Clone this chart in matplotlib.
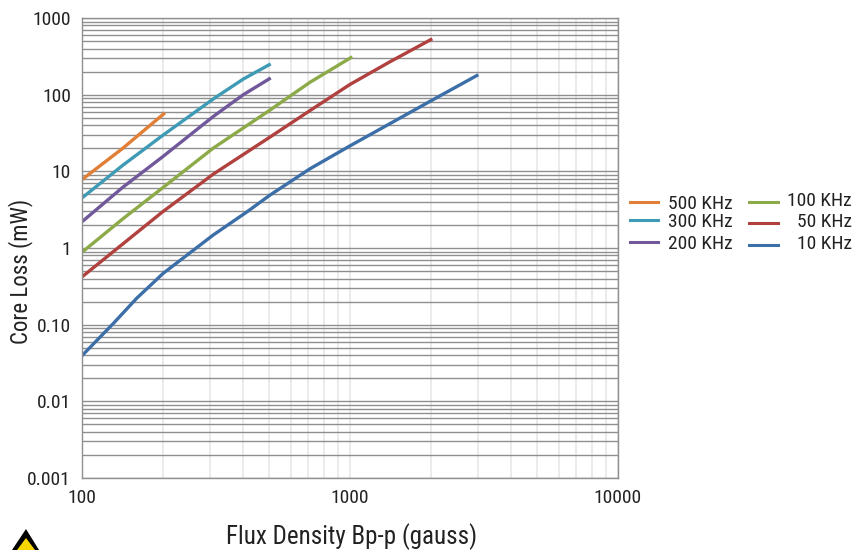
import matplotlib
matplotlib.use('Agg')
import matplotlib.pyplot as plt
from matplotlib.lines import Line2D
from matplotlib.patches import Polygon

plt.rcParams['font.family'] = ['Roboto Condensed', 'Liberation Sans Narrow', 'Archivo Narrow', 'Roboto', 'DejaVu Sans']

# values
x_500 = [100, 142, 204]
y_500 = [7.8, 20, 58]
x_300 = [100, 142, 201, 309, 400, 506]
y_300 = [4.5, 12, 29.8, 88, 160, 252]
x_200 = [100, 142, 200, 309, 400, 506]
y_200 = [2.2, 6.2, 15.5, 52, 100, 165]
x_100 = [100, 142, 200, 309, 503, 709, 1020]
y_100 = [0.88, 2.4, 6.1, 20.1, 63, 145, 312]
x_50 = [100, 200, 309, 503, 709, 1000, 1400, 2028]
y_50 = [0.42, 2.97, 9.2, 28, 62, 136, 265, 535]
x_10 = [100, 131, 160, 201, 309, 412, 503, 709, 1000, 2028, 3012]
y_10 = [0.0394, 0.104, 0.221, 0.468, 1.48, 2.95, 4.9, 10.8, 21.5, 85, 182]

labels_left = ['500 KHz', '300 KHz', '200 KHz']
labels_right = ['100 KHz', '50 KHz', '10 KHz']
colors_left = ['#e07f35', '#3f9bb5', '#70589b']
colors_right = ['#8caa48', '#b0413e', '#3c6fa8']
ytick_vals = [0.001, 0.01, 0.1, 1, 10, 100, 1000]
ytick_labels = ['0.001', '0.01', '0.10', '1', '10', '100', '1000']
xtick_vals = [100, 1000, 10000]
xtick_labels = ['100', '1000', '10000']

fig = plt.figure(figsize=(8.54, 5.5), dpi=100)
ax = fig.add_axes([82/854, 72/550, 536/854, 460/550])
ax.set_xscale('log')
ax.set_yscale('log')
ax.set_xlim(100, 10000)
ax.set_ylim(0.001, 1000)

ax.grid(True, axis='y', which='both', color='#8f8f8f', lw=1.0)
ax.grid(True, axis='x', which='both', color='#e6e6e6', lw=1.1)
ax.set_axisbelow(True)
for s in ax.spines.values():
    s.set_color('#8f8f8f')
    s.set_linewidth(1.0)

ax.plot(x_500, y_500, color=colors_left[0], lw=2.4, solid_capstyle='butt')
ax.plot(x_300, y_300, color=colors_left[1], lw=2.4, solid_capstyle='butt')
ax.plot(x_200, y_200, color=colors_left[2], lw=2.4, solid_capstyle='butt')
ax.plot(x_100, y_100, color=colors_right[0], lw=2.4, solid_capstyle='butt')
ax.plot(x_50, y_50, color=colors_right[1], lw=2.4, solid_capstyle='butt')
ax.plot(x_10, y_10, color=colors_right[2], lw=2.4, solid_capstyle='butt')

ax.set_yticks(ytick_vals)
ax.set_yticklabels(ytick_labels, fontsize=14, color='#222222')
ax.set_xticks(xtick_vals)
ax.set_xticklabels(xtick_labels, fontsize=14, color='#222222')
ax.minorticks_on()
ax.tick_params(axis='both', which='both', length=0)
ax.tick_params(axis='y', pad=8)
ax.tick_params(axis='x', pad=8)
ax.tick_params(axis='both', which='minor', labelleft=False, labelbottom=False)

fig.text(352/854, 1-537/550, 'Flux Density Bp-p (gauss)', fontsize=18, color='#222222',
         ha='center', va='center')
fig.text(21/854, 1-271/550, 'Core Loss (mW)', fontsize=16.5, color='#222222',
         rotation=90, ha='center', va='center')

# legend by hand, the right column is right aligned
rows_left = [204, 222, 244]
rows_right = [201, 222, 244]
for lab, col, row in zip(labels_left, colors_left, rows_left):
    fig.add_artist(Line2D([630/854, 658/854], [1-(row-2)/550]*2, color=col, lw=2.2))
    fig.text(733/854, 1-row/550, lab, fontsize=14, color='#222222', ha='right', va='center')
for lab, col, row in zip(labels_right, colors_right, rows_right):
    fig.add_artist(Line2D([749/854, 778/854], [1-(row+.5)/550]*2, color=col, lw=2.2))
    fig.text(852/854, 1-row/550, lab, fontsize=14, color='#222222', ha='right', va='center')

# warning sign, cut off by the bottom edge
fig.add_artist(Polygon([[26/854, 1-529/550], [12/854, 0], [39/854, 0]], closed=True,
                       transform=fig.transFigure, fc='black', ec='none'))
fig.add_artist(Polygon([[26/854, 1-538/550], [17/854, 0], [35/854, 0]], closed=True,
                       transform=fig.transFigure, fc='#f7d600', ec='none'))

fig.savefig('out.png', dpi=100)
